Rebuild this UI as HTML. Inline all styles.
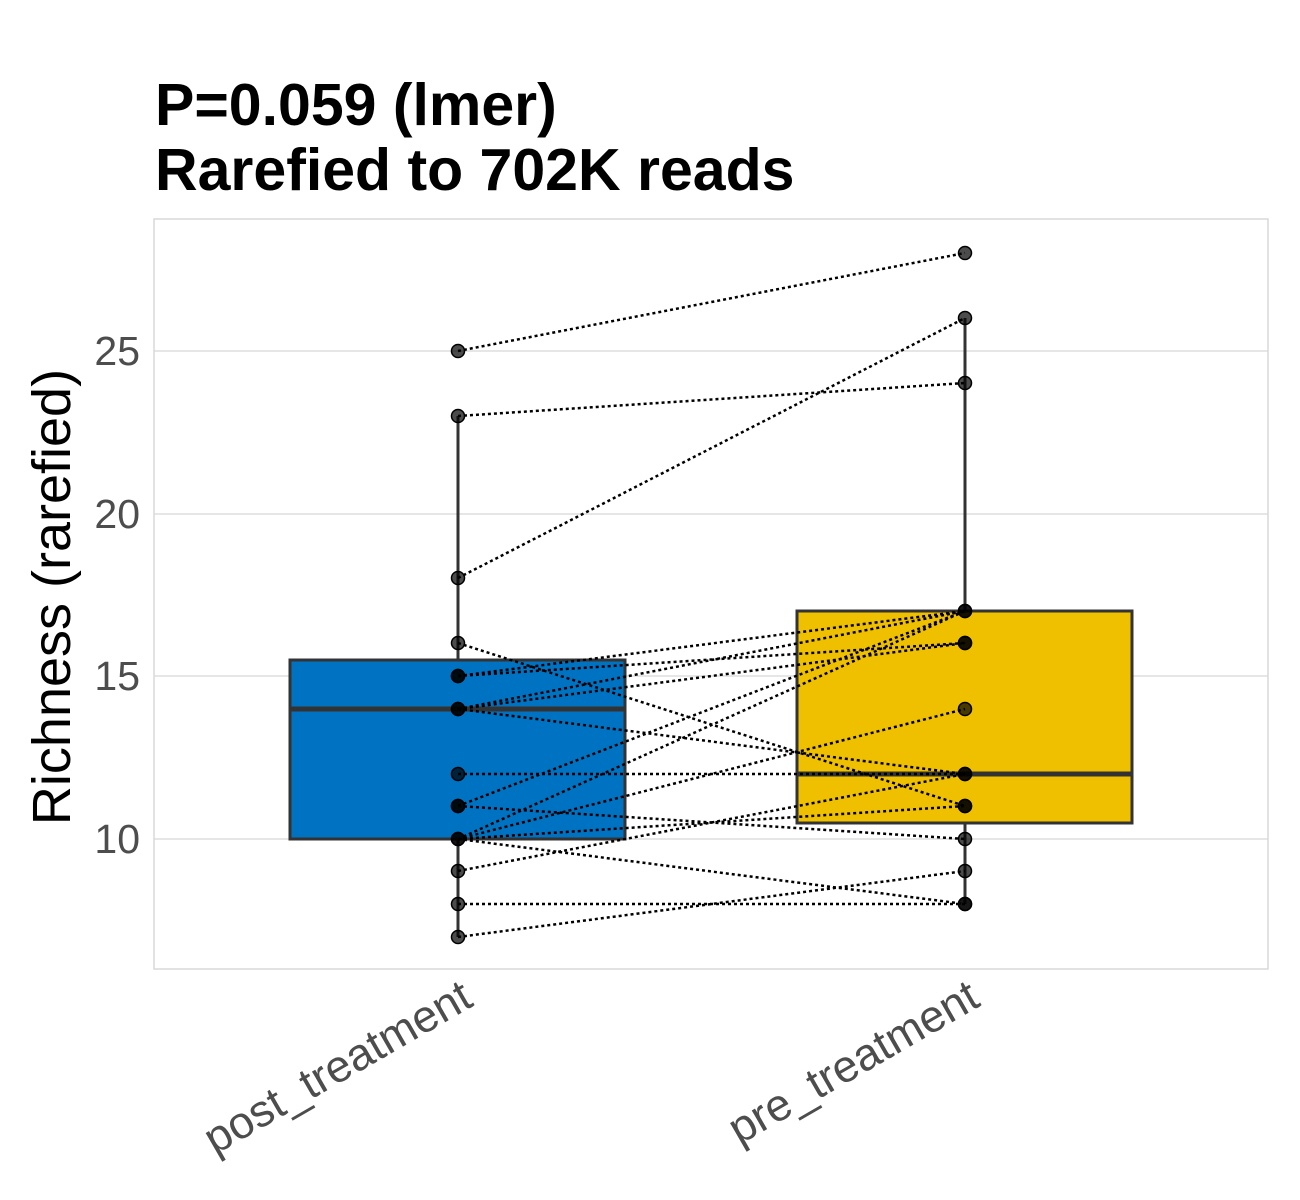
<!DOCTYPE html>
<html><head><meta charset="utf-8"><style>body{margin:0;background:#fff}svg{display:block}</style></head><body>
<svg width="1300" height="1200" xmlns="http://www.w3.org/2000/svg" font-family="Liberation Sans, Arial, sans-serif">
<rect width="1300" height="1200" fill="#fff"/>
<text x="155" y="125" font-size="59" font-weight="bold">P=0.059 (lmer)</text>
<text x="155" y="190" font-size="59" font-weight="bold">Rarefied to 702K reads</text>
<g stroke="#dedede" stroke-width="1.5">
<line x1="154" x2="1268" y1="351" y2="351"/><line x1="154" x2="1268" y1="514" y2="514"/>
<line x1="154" x2="1268" y1="676" y2="676"/><line x1="154" x2="1268" y1="839" y2="839"/>
</g>
<rect x="154" y="219" width="1114" height="750" fill="none" stroke="#d9d9d9" stroke-width="1.5"/>
<g font-size="41" fill="#4d4d4d" text-anchor="end">
<text x="140" y="365">25</text><text x="140" y="528">20</text><text x="140" y="690">15</text><text x="140" y="853">10</text>
</g>
<text transform="translate(70,597) rotate(-90)" font-size="54" text-anchor="middle">Richness (rarefied)</text>
<g font-size="45" fill="#4d4d4d" text-anchor="end">
<text transform="translate(475,1005) rotate(-30)">post_treatment</text>
<text transform="translate(982,1005) rotate(-30)">pre_treatment</text>
</g>
<g stroke="#333" stroke-width="3">
<line x1="458" x2="458" y1="416" y2="660"/><line x1="458" x2="458" y1="839" y2="937"/>
<rect x="290" y="660" width="335" height="179" fill="#0072c2"/>
<line x1="290" x2="625" y1="709" y2="709" stroke-width="5"/>
<line x1="965" x2="965" y1="318" y2="611"/><line x1="965" x2="965" y1="823" y2="904"/>
<rect x="797" y="611" width="335" height="212" fill="#efc000"/>
<line x1="797" x2="1132" y1="774" y2="774" stroke-width="5"/>
</g>
<g stroke="#000" stroke-width="2.5" stroke-dasharray="3,3">
<line x1="458" y1="351" x2="965" y2="253"/>
<line x1="458" y1="416" x2="965" y2="383"/>
<line x1="458" y1="578" x2="965" y2="318"/>
<line x1="458" y1="643" x2="965" y2="806"/>
<line x1="458" y1="676" x2="965" y2="611"/>
<line x1="458" y1="676" x2="965" y2="643"/>
<line x1="458" y1="709" x2="965" y2="611"/>
<line x1="458" y1="709" x2="965" y2="643"/>
<line x1="458" y1="709" x2="965" y2="774"/>
<line x1="458" y1="774" x2="965" y2="774"/>
<line x1="458" y1="806" x2="965" y2="611"/>
<line x1="458" y1="806" x2="965" y2="839"/>
<line x1="458" y1="839" x2="965" y2="611"/>
<line x1="458" y1="839" x2="965" y2="709"/>
<line x1="458" y1="839" x2="965" y2="806"/>
<line x1="458" y1="839" x2="965" y2="904"/>
<line x1="458" y1="871" x2="965" y2="774"/>
<line x1="458" y1="904" x2="965" y2="904"/>
<line x1="458" y1="937" x2="965" y2="871"/>
</g>
<g fill="#000" fill-opacity="0.7" stroke="#000" stroke-width="1.5">
<circle cx="458" cy="351" r="6.5"/><circle cx="458" cy="416" r="6.5"/><circle cx="458" cy="578" r="6.5"/>
<circle cx="458" cy="643" r="6.5"/><circle cx="458" cy="676" r="6.5"/><circle cx="458" cy="676" r="6.5"/>
<circle cx="458" cy="709" r="6.5"/><circle cx="458" cy="709" r="6.5"/><circle cx="458" cy="774" r="6.5"/>
<circle cx="458" cy="806" r="6.5"/><circle cx="458" cy="806" r="6.5"/><circle cx="458" cy="839" r="6.5"/>
<circle cx="458" cy="839" r="6.5"/><circle cx="458" cy="871" r="6.5"/><circle cx="458" cy="904" r="6.5"/>
<circle cx="458" cy="937" r="6.5"/>
<circle cx="965" cy="253" r="6.5"/><circle cx="965" cy="318" r="6.5"/><circle cx="965" cy="383" r="6.5"/>
<circle cx="965" cy="611" r="6.5"/><circle cx="965" cy="611" r="6.5"/><circle cx="965" cy="643" r="6.5"/>
<circle cx="965" cy="643" r="6.5"/><circle cx="965" cy="709" r="6.5"/><circle cx="965" cy="774" r="6.5"/>
<circle cx="965" cy="774" r="6.5"/><circle cx="965" cy="806" r="6.5"/><circle cx="965" cy="806" r="6.5"/>
<circle cx="965" cy="839" r="6.5"/><circle cx="965" cy="871" r="6.5"/><circle cx="965" cy="904" r="6.5"/>
<circle cx="965" cy="904" r="6.5"/>
</g>
</svg>
</body></html>
